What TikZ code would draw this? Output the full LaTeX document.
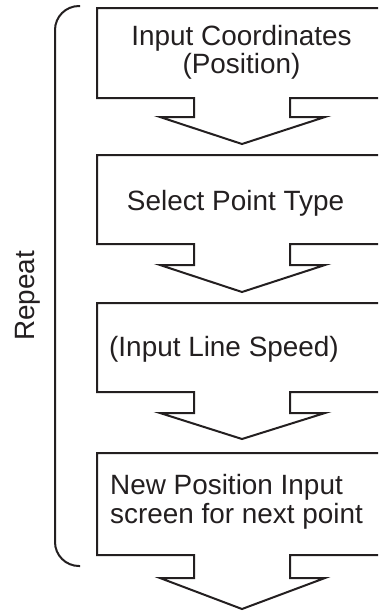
\documentclass[tikz,border=0pt]{standalone}
\usepackage{fontspec}
\setmainfont{Liberation Sans}
\definecolor{ink}{HTML}{231F20}
\tikzset{
  flowline/.style={draw=ink, line width=2pt, line join=miter, miter limit=20},
  bracketline/.style={draw=ink, line width=2pt, rounded corners=24pt},
  label/.style={text=ink, inner sep=0pt, font=\fontsize{27.9}{28.5}\selectfont},
}
\newcommand{\flowblock}[4]{%
  % #1 top, #2 bottom, #3 stem bottom, #4 tip
  \draw[flowline] (194,#2) -- (97,#2) -- (97,#1) -- (400,#1) -- (400,#2) -- (290,#2)
    -- (290,#3) -- (325,#3) -- (242,#4) -- (160,#3) -- (194,#3) -- cycle;
}
\begin{document}
\begin{tikzpicture}[x=1pt,y=-1pt]
  \clip (0,0) rectangle (378,611);
  \flowblock{8}{98}{117}{144}
  \flowblock{155}{244}{265}{292}
  \flowblock{303}{392}{413}{439}
  \flowblock{453}{555}{578}{609}
  \coordinate (btop) at (80,6);
  \coordinate (bbot) at (80,566);
  \draw[bracketline] (btop) -- (55,6) -- (55,566) -- (bbot);
  \node[label, align=center, anchor=base] (t1) at (241.5,73.5) {Input Coordinates\\(Position)};
  \node[label, anchor=base] (t2) at (235.5,210) {Select Point Type};
  \node[label, anchor=base west] (t3) at (109,356) {(Input Line Speed)};
  \node[label, align=left, anchor=base west] (t4) at (110,523) {New Position Input\\screen for next point};
  \node[label, rotate=90, anchor=center] (rep) at (28,296) {Repeat};
\end{tikzpicture}
\end{document}
